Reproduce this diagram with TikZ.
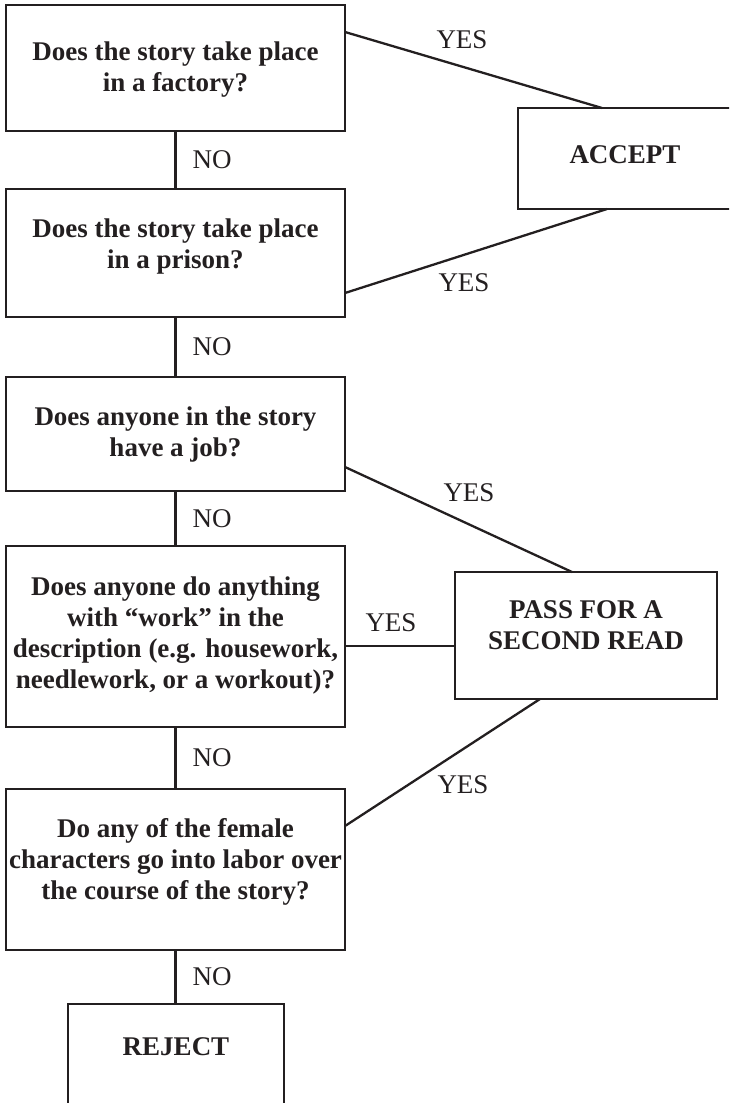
\documentclass[tikz,border=0pt]{standalone}
\usepackage{fontspec}
\setmainfont{Liberation Serif}
\definecolor{ink}{HTML}{231F20}
\tikzset{
 box/.style={draw=ink, line width=2.6pt, inner sep=0pt, outer sep=0pt},
 qtext/.style={text=ink, align=center, inner sep=0pt, font=\fontsize{27}{31}\selectfont\bfseries},
 conn/.style={draw=ink, line width=2.3pt},
 lbl/.style={text=ink, inner sep=0pt, font=\fontsize{27}{30}\selectfont},
 nolbl/.style={lbl, anchor=west, xshift=16pt},
}
\begin{document}
\begin{tikzpicture}[x=1pt,y=-1pt]
\clip (0,0) rectangle (729,1103);
% boxes
\node[box, minimum width=339pt, minimum height=126pt] (b1) at (175.5,68) {};
\node[box, minimum width=339pt, minimum height=128pt] (b2) at (175.5,253) {};
\node[box, minimum width=339pt, minimum height=114pt] (b3) at (175.5,434) {};
\node[box, minimum width=339pt, minimum height=181pt] (b4) at (175.5,636.5) {};
\node[box, minimum width=339pt, minimum height=161pt] (b5) at (175.5,869.5) {};
\node[box, minimum width=215pt, minimum height=101pt] (acc) at (625.5,158.5) {};
\node[box, minimum width=262pt, minimum height=127pt] (pass) at (586,635.5) {};
\node[box, minimum width=216pt, minimum height=106pt] (rej) at (176,1057) {};
% texts
\node[qtext] (t1) at (175.5,69.5) {Does the story take place\\in a factory?};
\node[qtext] (t2) at (175.5,247) {Does the story take place\\in a prison?};
\node[qtext] (t3) at (175.5,434.5) {Does anyone in the story\\have a job?};
\node[qtext] (t4) at (175.5,635) {Does anyone do anything\\with “work” in the\\description (e.g. housework,\\needlework, or a workout)?};
\node[qtext] (t5) at (175.5,862) {Do any of the female\\characters go into labor over\\the course of the story?};
\node[qtext] (tacc) at (625,155) {ACCEPT};
\node[qtext] (tpass) at (586,625) {PASS FOR A\\SECOND READ};
\node[qtext] (trej) at (176,1047) {REJECT};
% NO connectors
\draw[conn] (b1.south) -- node[nolbl] (n1) {NO} (b2.north);
\draw[conn] (b2.south) -- node[nolbl] (n2) {NO} (b3.north);
\draw[conn] (b3.south) -- node[nolbl] (n3) {NO} (b4.north);
\draw[conn] (b4.south) -- node[nolbl] (n4) {NO} (b5.north);
\draw[conn] (b5.south) -- node[nolbl] (n5) {NO} (b5.south |- rej.north);
% YES connectors
\draw[conn] ([yshift=-27pt]b1.north east) -- ([xshift=84pt]acc.north west);
\draw[conn] ([yshift=24pt]b2.south east) -- ([xshift=89pt]acc.south west);
\draw[conn] ([yshift=24pt]b3.south east) -- ([xshift=117pt]pass.north west);
\coordinate (pp) at ([yshift=-10.5pt]pass.west);
\draw[conn] (b4.east |- pp) -- (pp);
\draw[conn] ([yshift=-37pt]b5.north east) -- ([xshift=85pt]pass.south west);
% YES labels
\node[lbl] (y1) at (462,40) {YES};
\node[lbl] (y2) at (464,283) {YES};
\node[lbl] (y3) at (469,493) {YES};
\node[lbl] (y4) at (391,623) {YES};
\node[lbl] (y5) at (463,785) {YES};
\end{tikzpicture}
\end{document}
